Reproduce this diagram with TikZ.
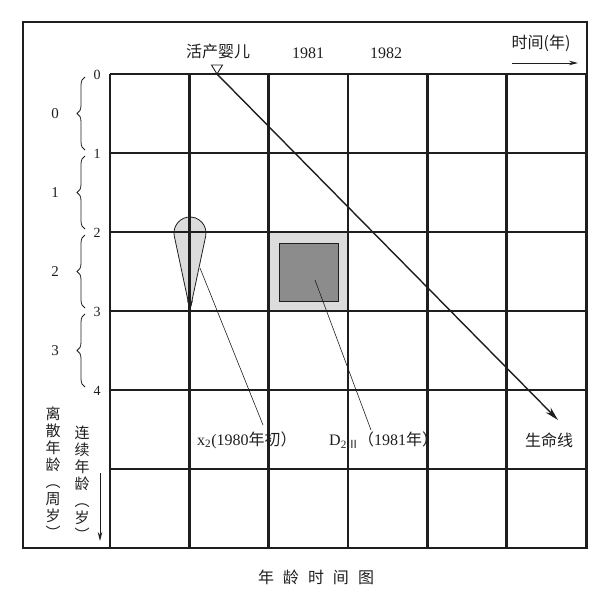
\documentclass[tikz,border=0pt]{standalone}
\usepackage{fontspec}
\setmainfont{Liberation Serif}
\newfontfamily\cjk{Noto Sans CJK SC}
\usetikzlibrary{arrows.meta,decorations.pathreplacing,calc}
\definecolor{inkc}{HTML}{1E1E1E}
\definecolor{lightfill}{HTML}{DCDCDC}
\definecolor{darkfill}{HTML}{8C8C8C}
\begin{document}
\begin{tikzpicture}[x=1pt,y=-1pt,
  gridline/.style={line width=2.8pt, inkc},
  frameline/.style={line width=1.1pt, inkc},
  leader/.style={line width=0.6pt, inkc},
  lbl/.style={inner sep=0pt, text=inkc},
  cjklbl/.style={lbl, font=\cjk\fontsize{16}{18}\selectfont},
  numlbl/.style={lbl, font=\fontsize{16}{18}\selectfont},
  ticklbl/.style={lbl, font=\fontsize{14}{16}\selectfont},
  bracelbl/.style={lbl, font=\fontsize{15}{17}\selectfont},
  agebrace/.style={decorate, decoration={brace, amplitude=8pt}, line width=0.8pt, inkc},
  vertlbl/.style={lbl, align=center, font=\cjk\fontsize{15}{17}\selectfont}
]
\useasboundingbox (0,0) rectangle (600,603);
% frame
\draw[frameline] (23,22) rectangle (587,548);
% shaded cell background
\fill[lightfill] (270,233) rectangle (348,312);
% teardrop
\coordinate (tipx) at (190,310);
\coordinate (dropc) at (190,233);
\draw[line width=0.8pt, inkc, fill=lightfill] (tipx) -- ($(dropc)+(168:16)$) arc[start angle=168, end angle=372, radius=16] -- cycle;
% grid
\foreach \i in {0,...,6} {
  \draw[gridline] ({110+79.33*\i},74) -- ({110+79.33*\i},548);
}
\foreach \j in {0,...,6} {
  \draw[gridline] (110,{74+79*\j}) -- (587,{74+79*\j});
}
% inner dark square
\node[draw=inkc, line width=0.8pt, fill=darkfill, minimum width=59pt, minimum height=58pt, inner sep=0pt] (dsq) at (308.5,272) {};
% teardrop tip arrow
\draw[line width=1.2pt, inkc, -{Stealth[length=10pt,width=6pt]}] (190,290) -- (tipx);
% top labels
\node[cjklbl] (birthlbl) at (218,51) {活产婴儿};
\node[numlbl] (y1981) at (308,53) {1981};
\node[numlbl] (y1982) at (386,53) {1982};
\node[cjklbl] (timelbl) at (541,43) {时间(年)};
\coordinate (tarrs) at (512,63);
\coordinate (tarre) at (578,63);
\draw[line width=0.9pt, inkc, -{Stealth[length=9pt,width=4.5pt]}] (tarrs) -- (tarre);
% birth marker and life line
\coordinate (birth) at (217,74);
\draw[line width=0.9pt, inkc] (211.5,65) -- (222.5,65) -- (birth) -- cycle;
\coordinate (lifeend) at (558,420);
\draw[line width=1.4pt, inkc, -{Stealth[length=14pt,width=7pt]}] (birth) -- (lifeend);
\node[cjklbl] (lifelbl) at (549,440) {生命线};
% tick labels and braces
\foreach \k in {0,...,4} {
  \node[ticklbl] (tick\k) at (97,{75+79*\k}) {\k};
}
\foreach \k in {0,...,3} {
  \draw[agebrace] (85,{74+79*\k+76}) -- (85,{74+79*\k+3});
  \node[bracelbl] (agelbl\k) at (55,{74+79*\k+39.5}) {\k};
}
% bottom labels and leaders
\node[lbl, anchor=west, font=\fontsize{16}{18}\selectfont] (xlbl) at (197,440) {x\textsubscript{2}(1980{\cjk 年初）}};
\node[lbl, anchor=west, font=\fontsize{16}{18}\selectfont] (dlbl) at (329,440) {D\textsubscript{2{\cjk Ⅲ}}{\cjk （}1981{\cjk 年）}};
\coordinate (xlead) at (200,268);
\coordinate (xleadend) at (263,425);
\draw[leader] (xlead) -- (xleadend);
\coordinate (dlead) at (315,280);
\coordinate (dleadend) at (371,430);
\draw[leader] (dlead) -- (dleadend);
% vertical axis labels
\node[vertlbl] (discage) at (53,473) {离\\散\\年\\龄\\︵\\周\\岁\\︶};
\node[vertlbl] (contage) at (82,483) {连\\续\\年\\龄\\︵\\岁\\︶};
\coordinate (varrs) at (100,473);
\coordinate (varre) at (100,541);
\draw[line width=0.9pt, inkc, -{Stealth[length=9pt,width=4.5pt]}] (varrs) -- (varre);
% caption
\node[lbl, font=\cjk\fontsize{16}{18}\selectfont] (caption) at (316,577) {年\hspace{9pt}龄\hspace{9pt}时\hspace{9pt}间\hspace{9pt}图};
\end{tikzpicture}
\end{document}
